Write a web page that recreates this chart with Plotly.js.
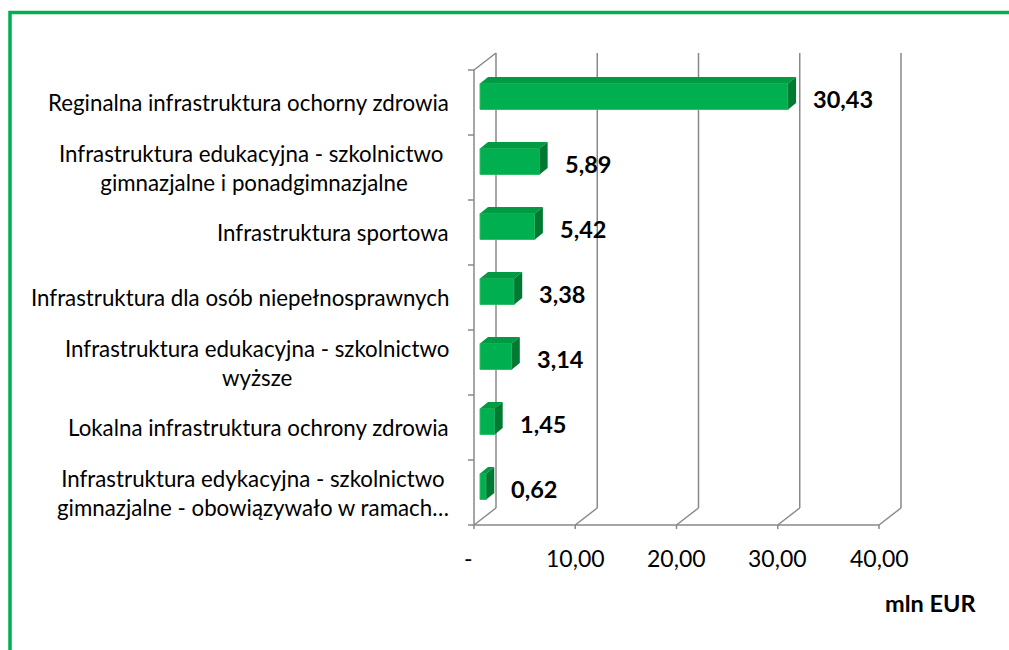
<!DOCTYPE html>
<html>
<head>
<meta charset="utf-8">
<script src="https://cdn.plot.ly/plotly-3.0.1.min.js"></script>
<style>html,body{margin:0;padding:0;background:#fff;}#chart{width:1009px;height:650px;}</style>
</head>
<body>
<div id="chart"></div>
<script>
// ---- data ----
const categories = [
  'Reginalna infrastruktura ochorny zdrowia',
  'Infrastruktura edukacyjna - szkolnictwo\u00a0<br>gimnazjalne i ponadgimnazjalne',
  'Infrastruktura sportowa',
  'Infrastruktura dla osób niepełnosprawnych',
  'Infrastruktura edukacyjna - szkolnictwo<br>wyższe',
  'Lokalna infrastruktura ochrony zdrowia',
  'Infrastruktura edykacyjna - szkolnictwo<br>gimnazjalne - obowiązywało w ramach…'
];
const values = [30.43, 5.89, 5.42, 3.38, 3.14, 1.45, 0.62];
const valueLabels = ['30,43', '5,89', '5,42', '3,38', '3,14', '1,45', '0,62'];
const xTickVals = [0, 10, 20, 30, 40];
const xTickText = ['-', '10,00', '20,00', '30,00', '40,00'];
const axisTitle = 'mln EUR';

// ---- geometry (pixel based, converted to data units) ----
const W = 1009, H = 650;
const X0 = 474, PXU = 10.125;        // x pixel of 0, pixels per unit
const YB = 525, PYU = 65;            // front-floor pixel, pixels per category
const n = categories.length;
const px = p => p / PXU, py = p => p / PYU;
const xRange = [-X0 / PXU, (W - X0) / PXU];
const yRange = [-0.5 - (H - YB) / PYU, -0.5 + YB / PYU];
const dX = px(22), dY = py(17);       // wall depth
const bX = px(6), bY = py(6);         // bar front offset
const bH = py(26);                    // bar thickness
const ddX = px(8), ddY = py(6.5);     // bar depth
const pos = categories.map((c, i) => n - 1 - i);

const gridColor = '#898989';
const shapes = [];
function seg(x0, y0, x1, y1) {
  shapes.push({type: 'line', xref: 'x', yref: 'y', x0, y0, x1, y1, layer: 'below',
               line: {color: gridColor, width: 1.5}});
}
xTickVals.forEach(t => {
  seg(t + dX, -0.5 + dY, t + dX, n - 0.5 + dY);
  seg(t, -0.5, t + dX, -0.5 + dY);
  seg(t, -0.5, t, -0.5 - py(4));
});
seg(xTickVals[0], -0.5, xTickVals[xTickVals.length - 1], -0.5);
seg(0, -0.5, 0, n - 0.5);
seg(0, n - 0.5, dX, n - 0.5 + dY);
for (let k = 0; k <= n; k++) seg(-px(6), -0.5 + k, 0, -0.5 + k);

// green frame
shapes.push({type: 'path', xref: 'paper', yref: 'paper', layer: 'above',
  path: `M ${10 / W} -0.02 L ${10 / W} ${1 - 12.5 / H} L 1.02 ${1 - 12.5 / H}`,
  line: {color: '#00B050', width: 3.5}});

// bar faces
const topX = [], topY = [], sideX = [], sideY = [];
values.forEach((v, i) => {
  const yc = pos[i] + bY;
  const yt = yc + bH / 2, yb = yc - bH / 2;
  const x0 = bX, x1 = bX + v;
  topX.push(x0, x1, x1 + ddX, x0 + ddX, x0, null);
  topY.push(yt, yt, yt + ddY, yt + ddY, yt, null);
  sideX.push(x1, x1, x1 + ddX, x1 + ddX, x1, null);
  sideY.push(yb, yt, yt + ddY, yb + ddY, yb, null);
});

const traces = [
  {type: 'bar', orientation: 'h', x: values, y: pos.map(p => p + bY), base: bX,
   width: bH, marker: {color: '#00B050', line: {color: '#2EBF68', width: 1}},
   hoverinfo: 'skip', showlegend: false},
  {type: 'scatter', mode: 'lines', x: topX, y: topY, fill: 'toself',
   fillcolor: '#009A43', line: {width: 0, color: '#009A43'}, hoverinfo: 'skip', showlegend: false},
  {type: 'scatter', mode: 'lines', x: sideX, y: sideY, fill: 'toself',
   fillcolor: '#007A33', line: {width: 0, color: '#007A33'}, hoverinfo: 'skip', showlegend: false}
];

const FONT = 'Lato, "Open Sans", sans-serif';
const annotations = [];
categories.forEach((c, i) => annotations.push({
  xref: 'x', yref: 'y', x: -px(23), y: pos[i], text: c, showarrow: false,
  xanchor: 'right', yanchor: 'middle', align: 'center',
  font: {family: FONT, size: 22.3, color: '#000'}
}));
values.forEach((v, i) => annotations.push({
  xref: 'x', yref: 'y', x: v + px(29), y: pos[i] + py(3.5), text: valueLabels[i], showarrow: false,
  xanchor: 'left', yanchor: 'middle',
  font: {family: FONT, size: 23.5, color: '#000', weight: 'bold'}
}));
xTickVals.forEach((t, i) => annotations.push({
  xref: 'x', yref: 'y', x: t, y: -0.5 - py(33), text: xTickText[i], showarrow: false,
  xanchor: 'center', yanchor: 'middle', xshift: xTickText[i] === '-' ? -6 : 0,
  font: {family: FONT, size: 23, color: '#000'}
}));
annotations.push({xref: 'paper', yref: 'paper', x: 930 / W, y: 1 - 603 / H, text: axisTitle,
  showarrow: false, xanchor: 'center', yanchor: 'middle',
  font: {family: FONT, size: 23.5, color: '#000', weight: 'bold'}});

const layout = {
  width: W, height: H, margin: {l: 0, r: 0, t: 0, b: 0},
  paper_bgcolor: '#fff', plot_bgcolor: '#fff', showlegend: false,
  xaxis: {range: xRange, visible: false, fixedrange: true},
  yaxis: {range: yRange, visible: false, fixedrange: true},
  shapes, annotations
};
Plotly.newPlot('chart', traces, layout, {staticPlot: true});
</script>
</body>
</html>
